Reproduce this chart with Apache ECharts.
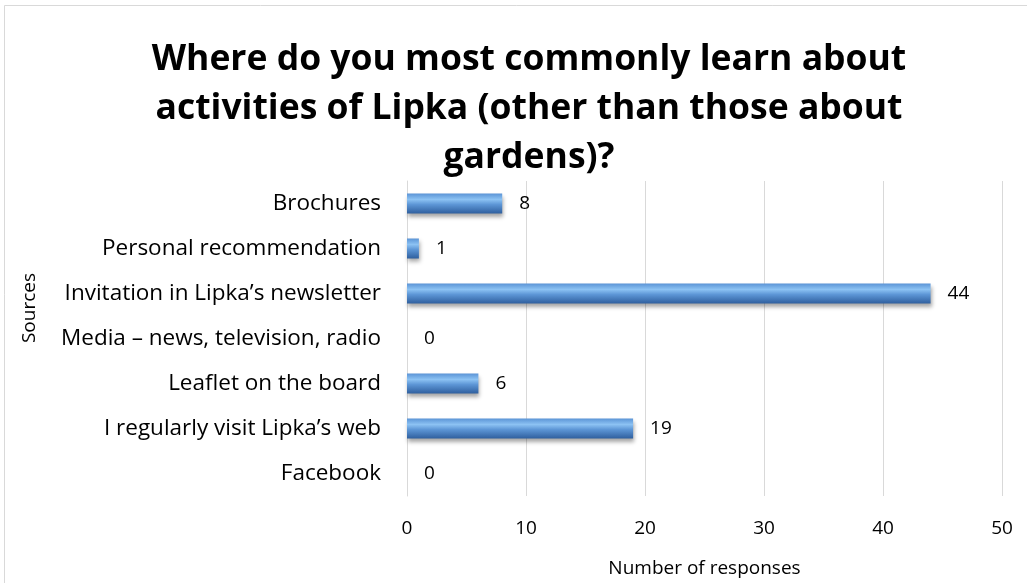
<!DOCTYPE html>
<html><head><meta charset="utf-8">
<script src="https://cdn.jsdelivr.net/npm/echarts@6/dist/echarts.min.js"></script>
<style>html,body{margin:0;padding:0;background:#fff}#c{width:1027px;height:583px}</style>
</head><body><div id="c"></div>
<script>
const categories = ["Facebook","I regularly visit Lipka\u2019s web","Leaflet on the board","Media \u2013 news, television, radio","Invitation in Lipka\u2019s newsletter","Personal recommendation","Brochures"];
const values = [0,19,6,0,44,1,8];
const xTicks = [0,10,20,30,40,50];
const titleText = "Where do you most commonly learn about\nactivities of Lipka (other than those about\ngardens)?";
const FONT = "Open Sans";
const chart = echarts.init(document.getElementById('c'));
chart.setOption({
  animation:false,
  backgroundColor:'#fff',
  graphic:[
    {type:'rect',shape:{x:4.5,y:5.5,width:1030,height:590},style:{fill:'none',stroke:'#d9d9d9',lineWidth:1},silent:true},
    {type:'text',x:30,y:308,rotation:Math.PI/2,style:{text:'Sources',fontFamily:FONT,fontSize:19,fill:'#000',align:'center',verticalAlign:'middle'},silent:true}
  ],
  title:{text:titleText,left:524,textAlign:'center',top:30,textStyle:{fontFamily:FONT,fontWeight:'bold',fontSize:35.5,lineHeight:49,color:'#000'}},
  grid:{left:407,right:25,top:181,bottom:79,containLabel:false},
  xAxis:{type:'value',min:xTicks[0],max:xTicks[xTicks.length-1],interval:10,
    name:'Number of responses',nameLocation:'middle',nameGap:63,
    nameTextStyle:{fontFamily:FONT,fontSize:19,color:'#000'},
    axisLine:{show:false},axisTick:{show:false},
    axisLabel:{fontFamily:FONT,fontSize:19,color:'#000',margin:23},
    splitLine:{lineStyle:{color:'#d9d9d9',width:1}}},
  yAxis:{type:'category',data:categories,
    axisLine:{show:true,lineStyle:{color:'#d9d9d9'}},axisTick:{show:false},
    axisLabel:{fontFamily:FONT,fontSize:22.5,color:'#000',margin:26,padding:[0,0,0,0]}},
  series:[{type:'bar',data:values,barWidth:20,
    itemStyle:{color:{type:'linear',x:0,y:0,x2:0,y2:1,colorStops:[
      {offset:0,color:'#5b94d6'},{offset:0.3,color:'#8cc2f3'},{offset:0.55,color:'#5d96d6'},{offset:1,color:'#2f5f9e'}]},
      borderWidth:0,
      shadowColor:'rgba(0,0,0,0.35)',shadowBlur:4,shadowOffsetY:3,shadowOffsetX:1},
    label:{show:true,position:'right',distance:17,fontFamily:FONT,fontSize:19,color:'#000'}}]
});
</script></body></html>
